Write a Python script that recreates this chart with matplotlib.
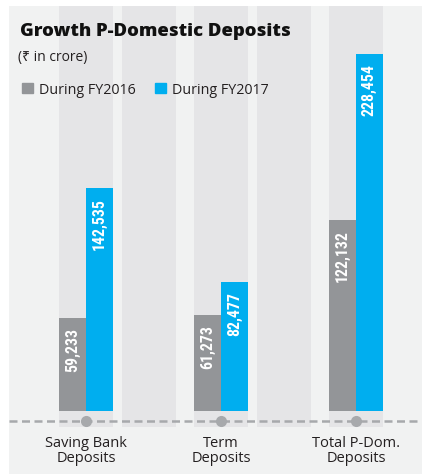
import matplotlib
matplotlib.use("Agg")
import matplotlib.pyplot as plt
from matplotlib.patches import Rectangle
from matplotlib import font_manager as fm

# ---- data ----
categories = ["Saving Bank\nDeposits", "Term\nDeposits", "Total P-Dom.\nDeposits"]
series_names = ["During FY2016", "During FY2017"]
fy2016 = [59233, 61273, 122132]
fy2017 = [142535, 82477, 228454]

# ---- style ----
W, H, DPI = 422, 474, 100
C_GRAY = "#939598"
C_BLUE = "#00aeef"
C_BG = "#f1f2f2"
C_COL = "#e5e5e7"
C_LINE = "#a7a9ac"
C_TEXT = "#231f20"
TXT_FONT = ["Open Sans", "Noto Sans", "DejaVu Sans"]

# pick a condensed face for the numbers if one is installed
num_props = dict(family=["Roboto", "DejaVu Sans"], fontsize=9.6, fontweight="medium")
_entries = fm.fontManager.ttflist
_names = {f.name for f in _entries}
for cand in ["Liberation Sans Narrow", "Roboto Condensed", "Arial Narrow", "Open Sans Condensed"]:
    if cand in _names:
        num_props = dict(family=[cand, "DejaVu Sans"], fontsize=11.4, fontweight="bold")
        break
else:
    for fam in ["Roboto", "Open Sans", "Noto Sans", "DejaVu Sans"]:
        if any(f.name == fam and str(f.stretch) in ("condensed", "semi-condensed", "75", "87")
               for f in _entries):
            num_props = dict(family=[fam], fontsize=11.4, fontweight="bold",
                             fontstretch="condensed")
            break

K = 640.0           # data units per pixel
PX_PER_CAT = 135.0  # pixels between category centres
X0_PX = 86.0        # pixel x of first category centre
BASE_PX = 411.0     # pixel y (from top) of value 0

fig = plt.figure(figsize=(W / DPI, H / DPI), dpi=DPI, facecolor="white")
ax_left, ax_top = 9, 6
ax = fig.add_axes([ax_left / W, 0, (W - ax_left) / W, (H - ax_top) / H])
ax.set_facecolor(C_BG)
ax.set_xlim((ax_left - X0_PX) / PX_PER_CAT, (W - X0_PX) / PX_PER_CAT)
ax.set_ylim(-(H - BASE_PX) * K, (BASE_PX - ax_top) * K)
for s in ax.spines.values():
    s.set_visible(False)
ax.set_xticks([])
ax.set_yticks([])

xs = list(range(len(categories)))
ytop = (BASE_PX - ax_top) * K
col_bottom = -16 * K

# background columns behind groups and between groups
col_w = 54 / PX_PER_CAT
col_pos = xs + [x + 0.47 for x in xs[:-1]]
ax.bar(col_pos, ytop - col_bottom, bottom=col_bottom, width=col_w,
       color=C_COL, zorder=0, linewidth=0)

# dashed baseline and dots
ax.axhline(-10 * K, color=C_LINE, lw=1.8, dashes=(3.2, 1.8), zorder=1)
ax.scatter(xs, [-10 * K] * len(xs), s=64, color=C_LINE, zorder=2, linewidths=0)

# bars
bw = 26.6 / PX_PER_CAT
b1 = ax.bar([x - bw / 2 for x in xs], fy2016, width=bw, color=C_GRAY, zorder=3, linewidth=0)
b2 = ax.bar([x + bw / 2 for x in xs], fy2017, width=bw, color=C_BLUE, zorder=3, linewidth=0)

for bars, vals in ((b1, fy2016), (b2, fy2017)):
    for rect, v in zip(bars, vals):
        ax.text(rect.get_x() + rect.get_width() / 2, v - 10 * K, f"{v:,}",
                rotation=90, ha="center", va="top", color="white",
                zorder=4, **num_props)

# category labels
for x, lab in zip(xs, categories):
    ax.text(x, -40 * K, lab, ha="center", va="center", fontsize=10.5,
            color=C_TEXT, family=TXT_FONT, linespacing=1.05)

# title, subtitle
def fy(px):
    return 1 - px / H

def fx(px):
    return px / W

fig.text(fx(20), fy(36), "Growth P-Domestic Deposits", fontsize=13.3,
         fontweight="heavy", color="#111111", family=TXT_FONT, va="baseline")
fig.text(fx(18), fy(57), "(₹ in crore)", fontsize=10, color=C_TEXT,
         family=TXT_FONT, va="center")

# legend
leg_x = [22, 155]
for lx, name, c in zip(leg_x, series_names, [C_GRAY, C_BLUE]):
    fig.patches.append(Rectangle((fx(lx), fy(93)), 11 / W, 10 / H,
                                 transform=fig.transFigure, color=c, figure=fig))
    fig.text(fx(lx + 17), fy(94), name, fontsize=10.3, color=C_TEXT,
             family=TXT_FONT, va="baseline")

fig.savefig("out.png", dpi=DPI, facecolor="white")
